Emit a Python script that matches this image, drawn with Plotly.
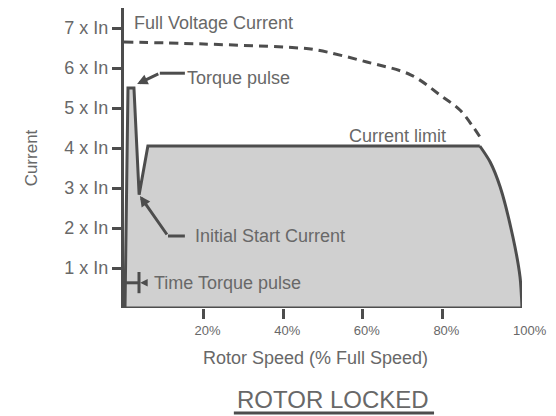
import plotly.graph_objects as go

# ---- data ----
limit_speed = [0.25, 1.0, 2.5, 3.8, 6.0, 89.4, 92.0, 94.5, 97.7, 99.5, 100, 0.25]
limit_current = [0, 5.5, 5.5, 2.83, 4.05, 4.05, 3.65, 3.03, 1.78, 0.78, 0, 0]
curve_speed = [89.4, 92.0, 94.5, 97.7, 99.5, 100]
curve_current = [4.05, 3.65, 3.03, 1.78, 0.78, 0]

fv_speed = [0, 20, 44, 48.5, 61, 72, 80, 84.4, 87.7, 89.4]
fv_current = [6.65, 6.6, 6.5, 6.45, 6.15, 5.83, 5.28, 4.95, 4.53, 4.28]

x_tickvals = [20, 40, 60, 80]
x_ticktext = ["20%", "40%", "60%", "80%"]
y_tickvals = [1, 2, 3, 4, 5, 6, 7]
y_ticktext = ["1 x In", "2 x In", "3 x In", "4 x In", "5 x In", "6 x In", "7 x In"]

# annotation anchor points (data units)
torque_pulse_path_x = [15.3, 9.0]
torque_pulse_path_y = [5.87, 5.87]
torque_pulse_tip = (3.3, 5.6)
initial_path_x = [15.3, 11.05]
initial_path_y = [1.8, 1.8]
initial_tip = (4.0, 2.8)
time_pulse_y = 0.63
time_pulse_end = 3.77

DARK = "#4d4d4d"
TEXT = "#686868"
FONT = "Liberation Sans, Arial, sans-serif"

fig = go.Figure()

# filled area (no outline)
fig.add_trace(go.Scatter(
    x=limit_speed, y=limit_current, mode="lines", fill="toself",
    fillcolor="#d0d0d0", line=dict(color="rgba(0,0,0,0)", width=0),
    hoverinfo="skip", showlegend=False))
# outline: straight part (bottom edge + pulse + current limit)
fig.add_trace(go.Scatter(
    x=[limit_speed[-2]] + limit_speed[0:6],
    y=[limit_current[-2]] + limit_current[0:6], mode="lines",
    line=dict(color=DARK, width=3), hoverinfo="skip", showlegend=False, cliponaxis=False))
# outline: curved part
fig.add_trace(go.Scatter(
    x=curve_speed, y=curve_current, mode="lines",
    line=dict(color=DARK, width=3, shape="spline", smoothing=0.8),
    hoverinfo="skip", showlegend=False, cliponaxis=False))

fig.add_trace(go.Scatter(
    x=fv_speed, y=fv_current, mode="lines",
    line=dict(color=DARK, width=3, dash="9px,6px", shape="spline"),
    hoverinfo="skip", showlegend=False))

# leader lines
fig.add_trace(go.Scatter(x=torque_pulse_path_x, y=torque_pulse_path_y, mode="lines",
                         line=dict(color=DARK, width=3), showlegend=False, hoverinfo="skip"))
fig.add_trace(go.Scatter(x=initial_path_x, y=initial_path_y, mode="lines",
                         line=dict(color=DARK, width=3), showlegend=False, hoverinfo="skip"))
fig.add_trace(go.Scatter(x=[0, time_pulse_end], y=[time_pulse_y, time_pulse_y], mode="lines",
                         line=dict(color=DARK, width=3), showlegend=False, hoverinfo="skip"))
fig.add_trace(go.Scatter(x=[time_pulse_end, time_pulse_end], y=[time_pulse_y - 0.26, time_pulse_y + 0.27],
                         mode="lines", line=dict(color=DARK, width=3), showlegend=False, hoverinfo="skip"))

ann = []
def arrow(x, y, ax, ay, w=3, size=0.7):
    ann.append(dict(x=x, y=y, ax=ax, ay=ay, xref="x", yref="y", axref="x", ayref="y",
                    text="", showarrow=True, arrowhead=2, arrowsize=size, arrowwidth=w,
                    arrowcolor=DARK, standoff=0, startstandoff=0))

arrow(torque_pulse_tip[0], torque_pulse_tip[1], torque_pulse_path_x[1], torque_pulse_path_y[1])
arrow(initial_tip[0], initial_tip[1], initial_path_x[1], initial_path_y[1])
arrow(-0.1, time_pulse_y, -1.76, time_pulse_y, w=1.5, size=1.0)
arrow(time_pulse_end + 0.3, time_pulse_y, 5.8, time_pulse_y, w=1.5, size=1.0)

def label(x, y, text, size=18):
    ann.append(dict(x=x, y=y, xref="x", yref="y", text=text, showarrow=False,
                    xanchor="left", yanchor="middle",
                    font=dict(family=FONT, size=size, color=TEXT)))

label(2.0, 7.13, "Full Voltage Current")
label(15.2, 5.76, "Torque pulse")
label(56.0, 4.3, "Current limit")
label(17.4, 1.8, "Initial Start Current")
label(7.1, 0.63, "Time Torque pulse")

# plot area is 398 x 300 px
ann.append(dict(x=100, y=0, xref="x", yref="paper", text="100%", showarrow=False,
                xanchor="center", yanchor="top", xshift=8, yshift=-13,
                font=dict(family=FONT, size=13, color=TEXT)))
ann.append(dict(x=0.48, y=-0.167, xref="paper", yref="paper",
                text="Rotor Speed (% Full Speed)", showarrow=False,
                xanchor="center", yanchor="middle",
                font=dict(family=FONT, size=18, color=TEXT)))
ann.append(dict(x=0.526, y=-0.305, xref="paper", yref="paper", text="ROTOR LOCKED",
                showarrow=False, xanchor="center", yanchor="middle",
                font=dict(family=FONT, size=24, color=TEXT)))

# The page body has an 8px default margin, so the figure is offset by 8px.
fig.update_layout(
    width=548, height=408,
    margin=dict(l=116, r=34, t=0, b=108, autoexpand=False),
    paper_bgcolor="white", plot_bgcolor="white",
    annotations=ann,
    shapes=[dict(type="line", xref="paper", yref="paper", x0=0.276, x1=0.779,
                 y0=-0.35, y1=-0.35, line=dict(color=DARK, width=3))],
    xaxis=dict(range=[0, 100], showgrid=False, zeroline=False, showline=False,
               tickvals=x_tickvals, ticktext=x_ticktext, ticks="outside",
               ticklen=10, tickwidth=3, tickcolor=DARK, ticklabelshift=4,
               tickfont=dict(family=FONT, size=13, color=TEXT)),
    yaxis=dict(range=[0, 7.5], showgrid=False, zeroline=False, showline=True,
               linewidth=3, linecolor=DARK,
               tickvals=y_tickvals, ticktext=y_ticktext, ticks="outside",
               ticklen=9, tickwidth=3, tickcolor=DARK,
               tickfont=dict(family=FONT, size=18, color=TEXT),
               title=dict(text="Current", standoff=23,
                          font=dict(family=FONT, size=17, color=TEXT))),
)

fig.write_html("out.html")
